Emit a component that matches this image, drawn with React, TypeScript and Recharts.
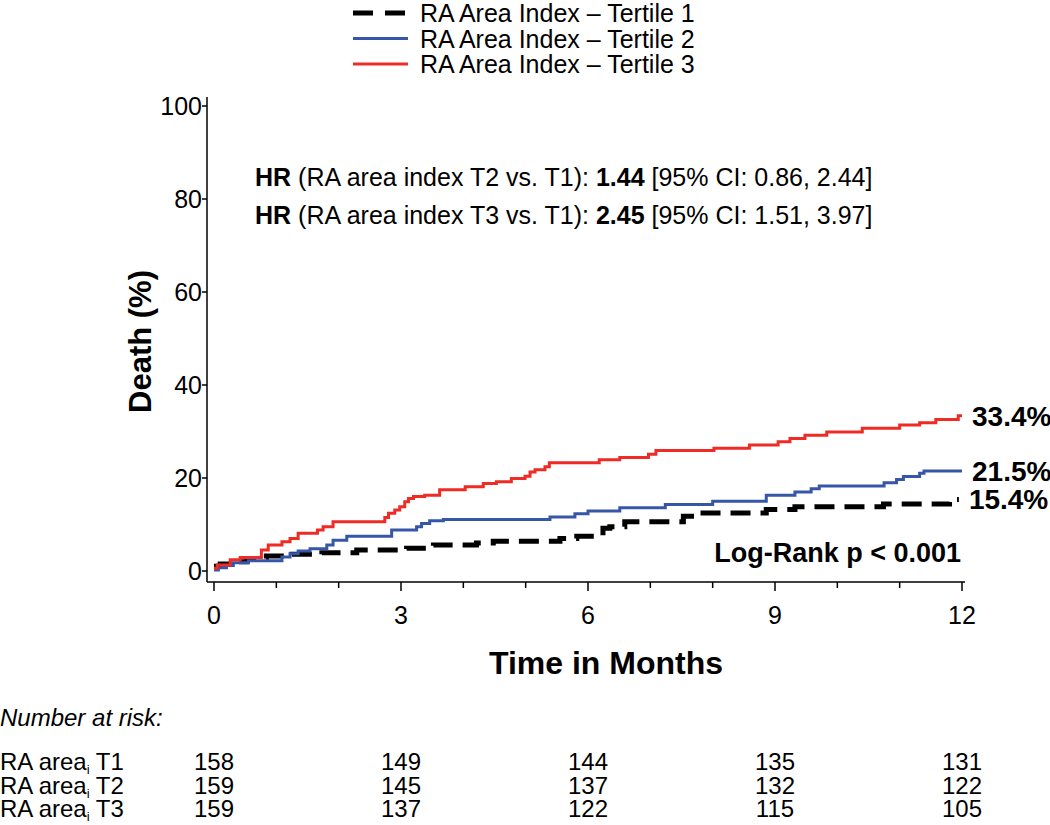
import React from 'react';
import { LineChart, Line, XAxis, YAxis, LabelList } from 'recharts';

// cumulative death (%), step changes at these months
const t1Months = [0, 0.1, 0.31, 0.53, 0.84, 1.25, 1.73, 2.29, 3.09, 3.52, 4.21, 4.48, 5.55, 5.82, 6.24, 6.35, 6.59, 7.53, 7.66, 8.86, 9.32, 10.74, 11.8, 11.9, 11.95];
const t1Death = [1.0, 1.5, 2.0, 2.7, 3.2, 3.6, 3.9, 4.5, 4.9, 5.6, 6.0, 6.4, 7.0, 7.5, 9.2, 9.5, 10.6, 11.8, 12.5, 13.2, 13.8, 14.4, 15.0, 15.4, 15.4];

const t2Months = [0, 0.07, 0.2, 0.31, 0.55, 1.09, 1.22, 1.35, 1.54, 1.81, 1.91, 2.13, 2.85, 3.25, 3.33, 3.46, 3.68, 5.39, 5.79, 6.0, 6.51, 7.24, 8.0, 8.86, 9.32, 9.58, 9.71, 10.75, 10.95, 11.06, 11.32, 11.39, 12];
const t2Death = [0.2, 0.7, 1.2, 1.8, 2.2, 3.0, 3.7, 4.3, 4.8, 5.6, 6.6, 7.5, 8.8, 9.5, 10.2, 10.8, 11.1, 11.6, 12.3, 12.9, 13.6, 14.3, 15.0, 16.3, 17.0, 17.7, 18.3, 19.0, 19.7, 20.3, 21.0, 21.5, 21.5];

const t3Months = [0, 0.05, 0.26, 0.42, 0.76, 0.87, 1.09, 1.22, 1.35, 1.66, 1.75, 1.91, 2.74, 2.8, 2.9, 2.98, 3.06, 3.12, 3.2, 3.38, 3.62, 4.03, 4.32, 4.53, 4.77, 4.99, 5.07, 5.15, 5.31, 5.38, 6.18, 6.51, 6.97, 7.09, 8.02, 8.59, 9.05, 9.24, 9.48, 9.83, 10.4, 11.0, 11.32, 11.58, 11.94, 12];
const t3Death = [0.6, 1.3, 2.4, 2.9, 4.5, 5.6, 6.3, 7.0, 8.1, 8.8, 9.5, 10.6, 11.5, 12.4, 13.1, 13.8, 14.9, 15.6, 16.0, 16.3, 17.5, 18.1, 18.8, 19.2, 19.9, 20.4, 21.3, 21.8, 22.4, 23.3, 23.9, 24.4, 25.1, 25.9, 26.4, 27.1, 27.8, 28.5, 29.2, 29.9, 30.7, 31.4, 31.9, 32.6, 33.4, 33.4];

const seriesNames = ['RA Area Index \u2013 Tertile 1', 'RA Area Index \u2013 Tertile 2', 'RA Area Index \u2013 Tertile 3'];
const endLabels = ['15.4%', '21.5%', '33.4%'];

const riskMonths = [0, 3, 6, 9, 12];
const riskRows = ['T1', 'T2', 'T3'];
const riskT1 = [158, 149, 144, 135, 131];
const riskT2 = [159, 145, 137, 132, 122];
const riskT3 = [159, 137, 122, 115, 105];

const yTicks = [0, 20, 40, 60, 80, 100];
const monthTicks = [0, 1, 2, 3, 4, 5, 6, 7, 8, 9, 10, 11, 12];

const BLACK = '#000000';
const BLUE = '#3657A8';
const RED = '#EE2B24';
const FONT = '"Liberation Sans", Arial, Helvetica, sans-serif';

const toSeries = (ts: number[], vs: number[]) => ts.map((t, i) => ({ t, v: vs[i] }));
const t1Data = toSeries(t1Months, t1Death);
const t2Data = toSeries(t2Months, t2Death);
const t3Data = toSeries(t3Months, t3Death);

// plot geometry (used only to line up the at-risk table under the ticks)
const X0 = 214;
const X12 = 962;
const monthX = (m: number) => X0 + ((X12 - X0) * m) / 12;

const MonthTick = (props: any) => {
  const { x, y, payload } = props;
  const major = payload.value % 3 === 0;
  return (
    <g>
      <line x1={x} y1={y} x2={x} y2={y + (major ? 9 : 6)} stroke={BLACK} strokeWidth={1.5} />
      {major && (
        <text x={x} y={y + 42} textAnchor="middle" fontSize={25} fill={BLACK} fontFamily={FONT}>
          {payload.value}
        </text>
      )}
    </g>
  );
};

const endLabel = (text: string, n: number) => (props: any) => {
  const { x, y, index } = props;
  if (index !== n - 1) return null;
  return (
    <text x={x + 10} y={y + 10} fontSize={28} fontWeight="bold" fill={BLACK} fontFamily={FONT}>
      {text}
    </text>
  );
};

const App: React.FC = () => {
  const riskValues = [riskT1, riskT2, riskT3];
  return (
    <div style={{ position: 'absolute', left: 0, top: 0, width: 1050, height: 825, background: '#fff', fontFamily: FONT }}>
      <LineChart width={1050} height={700} margin={{ top: 97, right: 85, bottom: 0, left: 0 }}>
        <XAxis
          type="number"
          dataKey="t"
          domain={[0, 12]}
          ticks={monthTicks}
          allowDataOverflow
          padding={{ left: 7, right: 3 }}
          height={118}
          tickSize={0}
          tickMargin={0}
          tickLine={false}
          tick={<MonthTick />}
          axisLine={{ stroke: BLACK, strokeWidth: 1.5 }}
          interval={0}
          label={{
            content: (p: any) => {
              const vb = p.viewBox;
              return (
                <text x={vb.x + vb.width / 2 + 20} y={vb.y + 92} textAnchor="middle" fontSize={32} fontWeight="bold" fill={BLACK} fontFamily={FONT}>
                  Time in Months
                </text>
              );
            },
          }}
        />
        <YAxis
          type="number"
          domain={[0, 100]}
          ticks={yTicks}
          padding={{ top: 9, bottom: 11 }}
          width={207}
          tickSize={5}
          tickMargin={0}
          tick={{ fill: BLACK, fontSize: 25, fontFamily: FONT }}
          tickLine={{ stroke: BLACK, strokeWidth: 1.5 }}
          axisLine={{ stroke: BLACK, strokeWidth: 1.5 }}
          label={{
            content: (p: any) => {
              const vb = p.viewBox;
              const cx = vb.x + 140;
              const cy = vb.y + vb.height / 2 + 2;
              return (
                <text
                  transform={`translate(${cx}, ${cy}) rotate(-90)`}
                  textAnchor="middle"
                  dominantBaseline="central"
                  fontSize={31}
                  fontWeight="bold"
                  fill={BLACK}
                  fontFamily={FONT}
                >
                  Death (%)
                </text>
              );
            },
          }}
        />
        <Line data={t1Data} dataKey="v" type="stepAfter" stroke={BLACK} strokeWidth={5} strokeDasharray="20 10" dot={false} isAnimationActive={false}>
          <LabelList dataKey="v" content={endLabel(endLabels[0], t1Data.length)} />
        </Line>
        <Line data={t2Data} dataKey="v" type="stepAfter" stroke={BLUE} strokeWidth={3} dot={false} isAnimationActive={false}>
          <LabelList dataKey="v" content={endLabel(endLabels[1], t2Data.length)} />
        </Line>
        <Line data={t3Data} dataKey="v" type="stepAfter" stroke={RED} strokeWidth={3} dot={false} isAnimationActive={false}>
          <LabelList dataKey="v" content={endLabel(endLabels[2], t3Data.length)} />
        </Line>
      </LineChart>

      <svg width={1050} height={825} style={{ position: 'absolute', left: 0, top: 0, pointerEvents: 'none' }} fontFamily={FONT}>
        {/* legend */}
        {seriesNames.map((name, i) => {
          const cy = 13 + i * 25.5;
          const color = [BLACK, BLUE, RED][i];
          return (
            <g key={name}>
              <line
                x1={353}
                x2={408}
                y1={cy}
                y2={cy}
                stroke={color}
                strokeWidth={i === 0 ? 5 : 3}
                strokeDasharray={i === 0 ? '20 12' : undefined}
              />
              <text x={420} y={cy + 9} fontSize={25} fill={BLACK}>
                {name}
              </text>
            </g>
          );
        })}

        {/* hazard ratios */}
        <text x={255} y={186} fontSize={25} fill={BLACK}>
          <tspan fontWeight="bold">HR</tspan> (RA area index T2 vs. T1): <tspan fontWeight="bold">1.44</tspan> [95% CI: 0.86, 2.44]
        </text>
        <text x={255} y={224} fontSize={25} fill={BLACK}>
          <tspan fontWeight="bold">HR</tspan> (RA area index T3 vs. T1): <tspan fontWeight="bold">2.45</tspan> [95% CI: 1.51, 3.97]
        </text>

        <text x={961} y={562} textAnchor="end" fontSize={27} fontWeight="bold" fill={BLACK}>
          Log-Rank p &lt; 0.001
        </text>

        {/* number at risk */}
        <text x={0} y={726} fontSize={24} fontStyle="italic" fill={BLACK}>
          Number at risk:
        </text>
        {riskRows.map((row, r) => {
          const by = 770 + r * 23.5;
          return (
            <g key={row}>
              <text x={0} y={by} fontSize={24} fill={BLACK}>
                RA area<tspan fontSize={13} dy={4}>i</tspan>
                <tspan dy={-4}> {row}</tspan>
              </text>
              {riskValues[r].map((n, c) => (
                <text key={c} x={monthX(riskMonths[c])} y={by} textAnchor="middle" fontSize={24} fill={BLACK}>
                  {n}
                </text>
              ))}
            </g>
          );
        })}
      </svg>
    </div>
  );
};

export default App;
